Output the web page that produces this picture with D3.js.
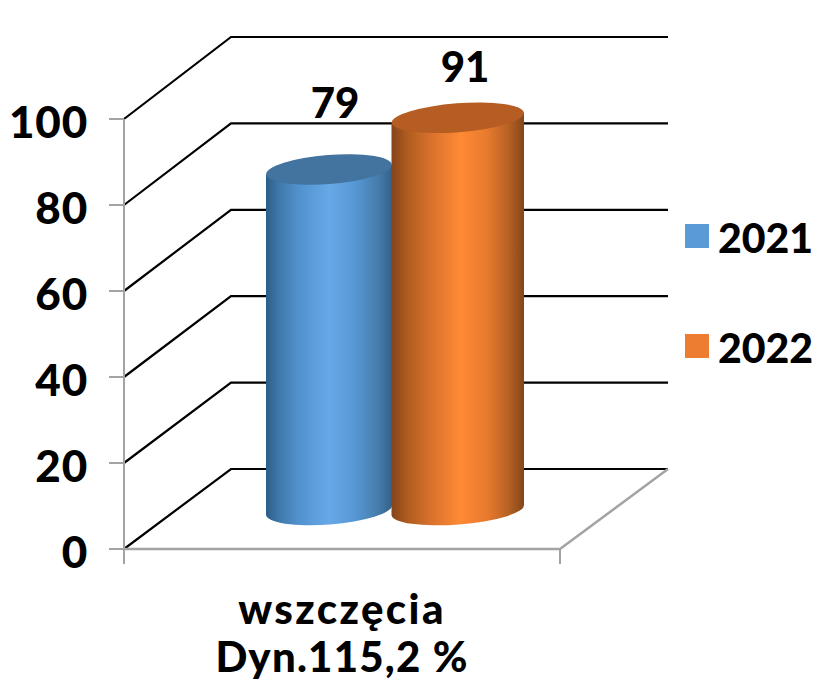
<!DOCTYPE html>
<html><head><meta charset="utf-8">
<script src="https://cdn.jsdelivr.net/npm/d3@7"></script>
<style>html,body{margin:0;background:#fff}svg{display:block}text{font-family:"Lato","Open Sans",sans-serif;font-weight:900;fill:#000}</style>
</head><body><svg width="817" height="683"></svg>
<script>
const yTicks=[0,20,40,60,80,100];
const series=["2021","2022"];
const values=[79,91];
const categoryLines=["wszczęcia","Dyn.115,2 %"];
const colors=["#5B9BD5","#ED7D31"];
const svg=d3.select("svg");
const y=d3.scaleLinear().domain([0,100]).range([549,119]);
const yBack=d3.scaleLinear().domain([0,100]).range([469,37]);
const x0=124,x1=560,xb=231,xe=668;
const grey="#a3a3a3";
yTicks.forEach(t=>{
  svg.append("path").attr("d",`M${x0},${y(t)}L${xb},${yBack(t)}L${xe},${yBack(t)}`).attr("fill","none").attr("stroke","#000").attr("stroke-width",2.2);
  svg.append("line").attr("x1",x0-15).attr("x2",x0).attr("y1",y(t)).attr("y2",y(t)).attr("stroke",grey).attr("stroke-width",2);
  svg.append("text").attr("x",88).attr("y",y(t)+3).attr("dy","0.36em").attr("text-anchor","end").attr("font-size",44).attr("letter-spacing",0.8).text(t);
});
svg.append("path").attr("d",`M${xe},${yBack(0)}L${x1},${y(0)}L${x0},${y(0)}`).attr("fill","none").attr("stroke",grey).attr("stroke-width",2.5);
svg.append("line").attr("x1",x0).attr("x2",x0).attr("y1",y(100)).attr("y2",y(0)+15).attr("stroke",grey).attr("stroke-width",2);
svg.append("line").attr("x1",x1).attr("x2",x1).attr("y1",y(0)).attr("y2",y(0)+15).attr("stroke",grey).attr("stroke-width",2);
const defs=svg.append("defs");
const stops=[[["0","#2c5d88"],["0.1","#3f77a8"],["0.25","#5091cc"],["0.5","#67a9e8"],["0.72","#5596d2"],["0.9","#447aa8"],["1","#34618a"]],
             [["0","#84441a"],["0.12","#b05c20"],["0.3","#d9722c"],["0.52","#ff8a35"],["0.72","#e87a2e"],["0.88","#b86224"],["1","#834619"]]];
stops.forEach((s,i)=>{const g=defs.append("linearGradient").attr("id","g"+i);s.forEach(d=>g.append("stop").attr("offset",d[0]).attr("stop-color",d[1]));});
const cyl=[{l:266,r:392,base:510},{l:391.5,r:524,base:510}];
const caps=["#43739f","#b55d22"];
const barY=d3.scaleLinear().domain([0,100]).range([0,431]);
const tilt=-4.4,ry=14.5,slope=Math.tan(tilt*Math.PI/180);
values.forEach((v,i)=>{
  const c=cyl[i],rx=(c.r-c.l)/2,top=c.base-barY(v),cx=(c.l+c.r)/2,off=-slope*rx;
  svg.append("path").attr("d",`M${c.l},${top+off}L${c.l},${c.base+off}A${rx},${ry} ${tilt} 0 0 ${c.r},${c.base-off}L${c.r},${top-off}Z`).attr("fill",`url(#g${i})`);
  svg.append("ellipse").attr("cx",cx).attr("cy",top).attr("rx",rx).attr("ry",ry).attr("fill",caps[i]).attr("transform",`rotate(${tilt} ${cx} ${top})`);
});
svg.append("text").attr("x",335).attr("y",103).attr("dy","0.36em").attr("text-anchor","middle").attr("font-size",42).text(values[0]);
svg.append("text").attr("x",465).attr("y",67).attr("dy","0.36em").attr("text-anchor","middle").attr("font-size",42).text(values[1]);
const ly=[236,346];
series.forEach((s,i)=>{
  svg.append("rect").attr("x",685).attr("y",ly[i]-12).attr("width",24).attr("height",24).attr("fill",colors[i]);
  svg.append("text").attr("x",718).attr("y",ly[i]+2).attr("dy","0.36em").attr("font-size",41).text(s);
});
const catSpacing=[2.4,1.2];
const catY=[609,657];
categoryLines.forEach((t,i)=>svg.append("text").attr("x",342).attr("y",catY[i]).attr("dy","0.36em").attr("text-anchor","middle").attr("font-size",42).attr("letter-spacing",catSpacing[i]).text(t));
</script></body></html>
